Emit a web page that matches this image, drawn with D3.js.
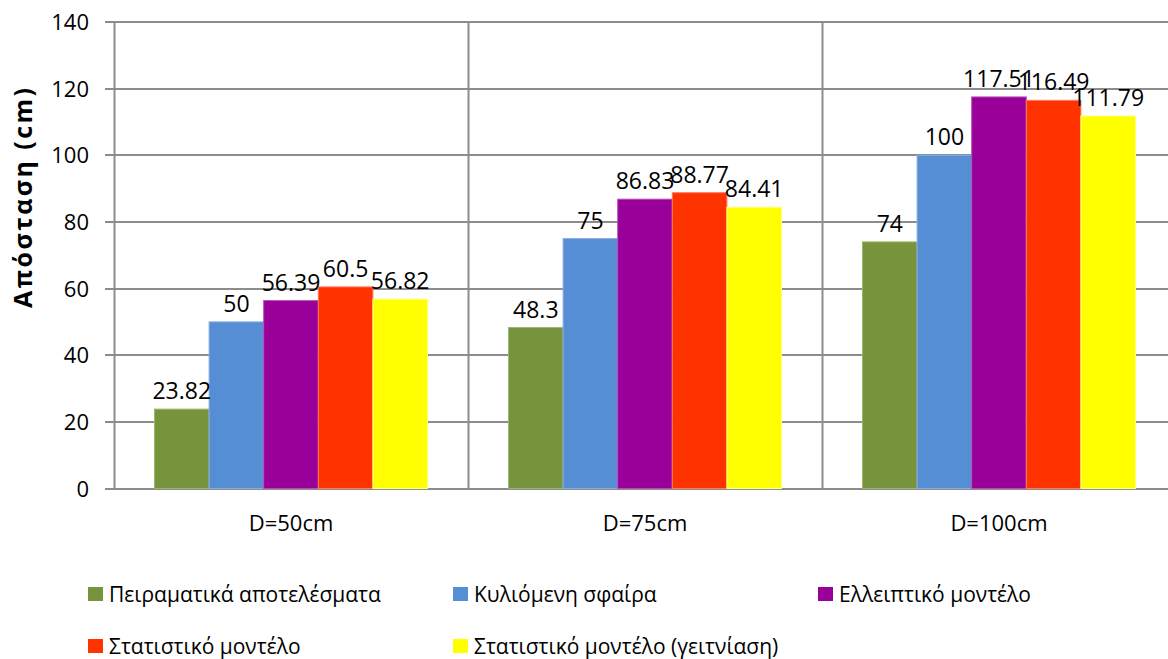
<!DOCTYPE html>
<html>
<head>
<meta charset="utf-8">
<script src="https://cdn.jsdelivr.net/npm/d3@7"></script>
<style>
  body { margin: 0; background: #fff; }
  text { font-family: "Open Sans", "Noto Sans", sans-serif; fill: #000; }
</style>
</head>
<body>
<div id="chart"></div>
<script>
// categories and series
var categories = ["D=50cm", "D=75cm", "D=100cm"];
var seriesNames = ["Πειραματικά αποτελέσματα", "Κυλιόμενη σφαίρα", "Ελλειπτικό μοντέλο",
                   "Στατιστικό μοντέλο", "Στατιστικό μοντέλο (γειτνίαση)"];
var peiramatika = [23.82, 48.3, 74];
var kyliomeni = [50, 75, 100];
var elleiptiko = [56.39, 86.83, 117.51];
var statistiko = [60.5, 88.77, 116.49];
var geitniasi = [56.82, 84.41, 111.79];
var yTicks = [0, 20, 40, 60, 80, 100, 120, 140];
var colors = ["#77933C", "#558ED5", "#990099", "#FF3300", "#FFFF00"];
var strokes = ["#9bb56a", "#86aee2", "#b84db8", "#ff7a5a", "#ffff80"];

var allSeries = [peiramatika, kyliomeni, elleiptiko, statistiko, geitniasi];

var W = 1168, H = 659;
var margin = {top: 22, left: 114};
var plotRight = 1176;

var svg = d3.select("#chart").append("svg")
    .attr("width", W)
    .attr("height", H);

var y = d3.scaleLinear().domain([0, 140]).range([488.5, margin.top]);
var x0 = d3.scaleBand().domain(categories).range([margin.left, plotRight]);
var groupW = x0.bandwidth();
var x1 = d3.scaleBand().domain(d3.range(seriesNames.length))
    .range([groupW * 0.1144, groupW * 0.8856]);

var gridColor = "#8c8c8c";

// horizontal gridlines + ticks
svg.append("g").selectAll("line")
    .data(yTicks)
    .enter().append("line")
    .attr("x1", margin.left - 9)
    .attr("x2", W)
    .attr("y1", function(d){ return Math.round(y(d)); })
    .attr("y2", function(d){ return Math.round(y(d)); })
    .attr("stroke", gridColor)
    .attr("stroke-width", 2);

// vertical gridlines at category boundaries
svg.append("g").selectAll("line")
    .data(categories)
    .enter().append("line")
    .attr("x1", function(d){ return Math.round(x0(d)) + 0.5; })
    .attr("x2", function(d){ return Math.round(x0(d)) + 0.5; })
    .attr("y1", y(140))
    .attr("y2", y(0))
    .attr("stroke", gridColor)
    .attr("stroke-width", 2);

// y tick labels
svg.append("g").selectAll("text")
    .data(yTicks)
    .enter().append("text")
    .attr("x", 89)
    .attr("y", function(d){ return y(d) + 8; })
    .attr("text-anchor", "end")
    .style("font-size", "22px")
    .text(function(d){ return d; });

// bars
var groups = svg.append("g").selectAll("g")
    .data(categories)
    .enter().append("g")
    .attr("transform", function(d){ return "translate(" + x0(d) + ",0)"; });

groups.selectAll("rect")
    .data(function(d, i){ return allSeries.map(function(s, k){ return {k: k, v: s[i]}; }); })
    .enter().append("rect")
    .attr("x", function(d){ return x1(d.k); })
    .attr("width", x1.bandwidth())
    .attr("y", function(d){ return y(d.v); })
    .attr("height", function(d){ return y(0) - y(d.v); })
    .attr("fill", function(d){ return colors[d.k]; })
    .attr("stroke", function(d){ return strokes[d.k]; })
    .attr("stroke-width", 1);

// data labels
groups.selectAll("text")
    .data(function(d, i){ return allSeries.map(function(s, k){ return {k: k, v: s[i]}; }); })
    .enter().append("text")
    .attr("x", function(d){ return x1(d.k) + x1.bandwidth() / 2; })
    .attr("y", function(d){ return y(d.v) - 10; })
    .attr("text-anchor", "middle")
    .style("font-size", "23px")
    .text(function(d){ return d.v; });

// category labels
svg.append("g").selectAll("text")
    .data(categories)
    .enter().append("text")
    .attr("x", function(d){ return x0(d) + groupW / 2; })
    .attr("y", 531)
    .attr("text-anchor", "middle")
    .style("font-size", "22px")
    .text(function(d){ return d; });

// y axis title
svg.append("text")
    .attr("transform", "translate(32,198) rotate(-90)")
    .attr("text-anchor", "middle")
    .attr("textLength", 220)
    .attr("lengthAdjust", "spacing")
    .style("font-size", "25px")
    .style("font-weight", "bold")
    .text("Απόσταση (cm)");

// legend
var legendPos = [[88, 602], [453, 602], [818, 602], [88, 654], [453, 654]];
var legend = svg.append("g").selectAll("g")
    .data(seriesNames)
    .enter().append("g")
    .attr("transform", function(d, i){ return "translate(" + legendPos[i][0] + "," + legendPos[i][1] + ")"; });

legend.append("rect")
    .attr("x", 0)
    .attr("y", -15)
    .attr("width", 15)
    .attr("height", 14)
    .attr("fill", function(d, i){ return colors[i]; });

legend.append("text")
    .attr("x", 21)
    .attr("y", 0)
    .style("font-size", "21px")
    .text(function(d){ return d; });
</script>
</body>
</html>
